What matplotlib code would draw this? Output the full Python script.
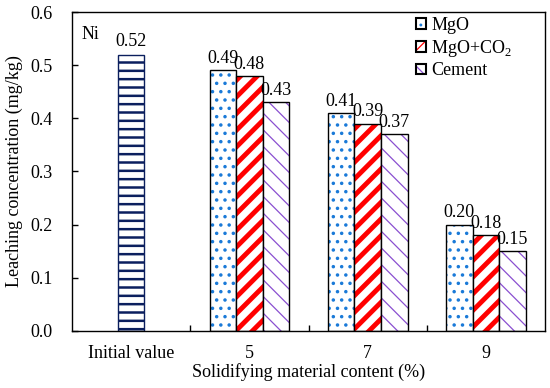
import numpy as np
import matplotlib.pyplot as plt
import matplotlib.colors as mcolors

plt.rcParams['font.family'] = ['Liberation Serif', 'DejaVu Serif']
plt.rcParams['mathtext.fontset'] = 'custom'
plt.rcParams['mathtext.rm'] = 'Liberation Serif'

# data
groups = ['Initial value', '5', '7', '9']
initial = 0.52
series = ['MgO', 'MgO+CO$_2$', 'Cement']
mgo = [0.49, 0.41, 0.20]
mgo_co2 = [0.48, 0.39, 0.18]
cement = [0.43, 0.37, 0.15]

colors = ['#1a7ad8', '#ff0000', '#8a4fd0']
hatches = ['..', '//', '\\\\']
hatch_lw = [1.3, 3.5, 0.9]
navy = '#0b1f5e'
fs = 13


def style_bars(bars, col, lw):
    for b in bars:
        b._hatch_color = mcolors.to_rgba(col)
        if hasattr(b, 'set_hatch_linewidth'):
            b.set_hatch_linewidth(lw)


fig = plt.figure(figsize=(5.5, 3.88), dpi=100)
ax = fig.add_axes([0.131, 0.147, 0.860, 0.822])

w = 0.225
plt.rcParams['hatch.linewidth'] = 1.8
b0 = ax.bar(0, initial, w, color='white', edgecolor=navy, hatch='--', linewidth=1.0)
style_bars(b0, navy, 1.8)
ax.text(0, initial + 0.008, f'{initial:.2f}', ha='center', va='bottom', fontsize=fs)

x = np.arange(1, 4)
for i, (vals, name) in enumerate(zip([mgo, mgo_co2, cement], series)):
    plt.rcParams['hatch.linewidth'] = hatch_lw[i]
    pos = x + (i - 1) * w
    bars = ax.bar(pos, vals, w, color='white', edgecolor='black', linewidth=1.0,
                  hatch=hatches[i], label=name)
    style_bars(bars, colors[i], hatch_lw[i])
    for p, v in zip(pos, vals):
        ax.text(p, v + 0.006, f'{v:.2f}', ha='center', va='bottom', fontsize=fs)

ax.set_xlim(-0.5, 3.5)
ax.set_ylim(0, 0.6)
yt = np.arange(0, 0.61, 0.1)
ax.set_yticks(yt)
ax.set_yticklabels([f'{t:.1f}' for t in yt], fontsize=fs)
ax.set_xticks(range(4))
ax.set_xticklabels(groups, fontsize=fs)
ax.set_xticks([0.5, 1.5, 2.5], minor=True)
ax.tick_params(axis='x', which='major', length=0, pad=10)
ax.tick_params(axis='x', which='minor', direction='in', length=4, width=1)
ax.tick_params(axis='y', direction='in', length=4, width=1, right=False, pad=14)
for s in ax.spines.values():
    s.set_linewidth(1.0)

ax.set_ylabel('Leaching concentration (mg/kg)', fontsize=fs, labelpad=5)
ax.set_xlabel('Solidifying material content (%)', fontsize=fs, labelpad=1)
ax.text(0.02, 0.955, 'Ni', transform=ax.transAxes, fontsize=fs, va='top')

leg = ax.legend(loc='upper right', bbox_to_anchor=(0.965, 1.035), frameon=False, fontsize=fs,
                handlelength=0.55, handleheight=0.55, handletextpad=0.3, labelspacing=0.2)
for h in leg.legend_handles:
    h.set_linewidth(1.5)

fig.savefig('out.png', dpi=100)
